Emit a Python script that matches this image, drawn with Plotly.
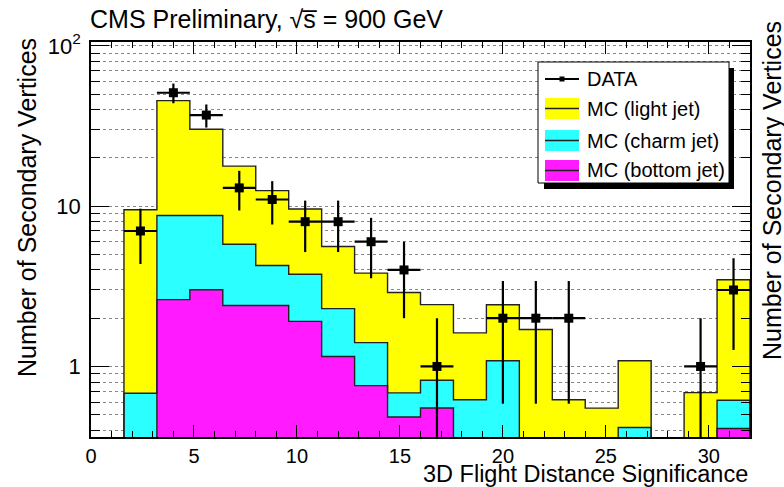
import numpy as np
import plotly.graph_objects as go

# ---------------- data ----------------
bin_edges = np.round(np.arange(0, 32.01, 1.6), 2)          # 20 bins of width 1.6
light_jet = [0, 8.82, 36.8, 21.4, 12.0, 8.24, 5.84, 3.31, 2.41, 2.21,
             1.61, 1.00, 1.34, 1.70, 0.62, 0.55, 0.67, 0, 0.687, 2.86]
charm_jet = [0, 0.68, 6.14, 5.74, 3.38, 1.86, 1.85, 1.14, 0.65, 0.20,
             0.27, 0.62, 1.085, 0, 0, 0, 0.416, 0, 0, 0.205]
bottom_jet = [0, 0, 2.61, 3.01, 2.40, 2.40, 1.91, 1.154, 0.759, 0.484,
              0.551, 0, 0, 0, 0, 0, 0, 0, 0, 0.41]
data_x = [2.4, 4.0, 5.6, 7.2, 8.8, 10.4, 12.0, 13.6, 15.2, 16.8, 20.0, 21.6, 23.2, 29.6, 31.2]
data_y = [7, 51, 37, 13, 11, 8, 8, 6, 4, 1, 2, 2, 2, 1, 3]
y_tick_vals = [1, 10, 100]
y_tick_text = ["1", "10", "10<sup>2</sup>"]
x_tick_vals = [0, 5, 10, 15, 20, 25, 30]

# ---------------- geometry helpers ----------------
W, H = 784, 487
ML, MR, MT, MB = 91, 34, 42, 50
PW, PH = W - ML - MR, H - MT - MB
FONT = "Liberation Sans, Arial, Helvetica, sans-serif"


def px(x):
    return (x - ML) / PW


def py(y):
    return (H - MB - y) / PH


bottom = np.array(bottom_jet, dtype=float)
charm_top = bottom + np.array(charm_jet, dtype=float)
total = charm_top + np.array(light_jet, dtype=float)
centers = bin_edges[:-1] + 0.8
widths = np.diff(bin_edges)

YELLOW, CYAN, MAGENTA = "#ffff00", "#2bffff", "#ff1aff"
OUTLINE = "#222222"

fig = go.Figure()

for vals, col in [(total, YELLOW), (charm_top, CYAN), (bottom, MAGENTA)]:
    yv = np.where(vals > 0, vals, np.nan)
    fig.add_trace(go.Bar(x=centers, y=yv, width=widths, marker=dict(color=col, line=dict(width=0)),
                         showlegend=False, hoverinfo="skip"))

# step outlines
for vals in [total, charm_top, bottom]:
    v = np.where(vals > 0, vals, 1e-3)
    xs = np.concatenate([[bin_edges[0]], bin_edges])
    ys = np.concatenate([[1e-3], v, [1e-3]])
    fig.add_trace(go.Scatter(x=xs, y=ys, mode="lines", line=dict(color=OUTLINE, width=1.4, shape="hv"),
                             showlegend=False, hoverinfo="skip"))

# data points
dy = np.sqrt(np.array(data_y, dtype=float))
dy_minus = np.minimum(dy, np.array(data_y) - 1e-3)
fig.add_trace(go.Scatter(
    x=data_x, y=data_y, mode="markers",
    marker=dict(symbol="square", size=9, color="black"),
    error_y=dict(type="data", array=dy, arrayminus=dy_minus, thickness=2.2, width=0, color="black"),
    error_x=dict(type="constant", value=0.8, thickness=2.2, width=0, color="black"),
    showlegend=False, hoverinfo="skip"))

minor_y = [m * 10 ** d for d in (-1, 0, 1) for m in range(2, 10) if 0.36 < m * 10 ** d < 105]

fig.update_layout(
    width=W, height=H,
    margin=dict(l=ML, r=MR, t=MT, b=MB),
    paper_bgcolor="white", plot_bgcolor="white",
    barmode="overlay", bargap=0,
    font=dict(family=FONT, color="black", size=20),
    xaxis=dict(range=[0, 32], tickvals=x_tick_vals, ticks="inside", ticklen=12, tickwidth=1,
               tickcolor="black", showline=True, linecolor="black", linewidth=1.5, mirror="ticks",
               showgrid=False, zeroline=False, tickfont=dict(size=20), ticklabelstandoff=0,
               minor=dict(dtick=1, ticks="inside", ticklen=6, tickcolor="black", showgrid=False)),
    yaxis=dict(type="log", range=[-0.44, 2.024], tickmode="array", tickvals=y_tick_vals,
               ticktext=y_tick_text, ticks="inside", ticklen=18, tickwidth=1, tickcolor="black",
               showline=True, linecolor="black", linewidth=1.5, mirror="ticks",
               showgrid=True, gridcolor="#888888", griddash="dot", gridwidth=1, zeroline=False,
               tickfont=dict(size=22), ticklabelstandoff=4,
               minor=dict(tickmode="array", tickvals=minor_y, ticks="inside", ticklen=9,
                          tickcolor="black", showgrid=True, gridcolor="#888888", griddash="dot",
                          gridwidth=1)),
)

# title & axis titles
annots = [
    dict(text="CMS Preliminary, √s\u0305 = 900 GeV", x=px(88), y=py(19), xanchor="left", yanchor="middle",
         font=dict(size=25)),
    dict(text="3D Flight Distance Significance", x=px(750), y=py(473.5), xanchor="right", yanchor="middle",
         font=dict(size=23.5)),
    dict(text="Number of Secondary Vertices", x=px(27), y=py(208), textangle=-90, xanchor="center",
         yanchor="middle", font=dict(size=25)),
    dict(text="Number of Secondary Vertices", x=px(772), y=py(191), textangle=-90, xanchor="center",
         yanchor="middle", font=dict(size=25)),
]

# manual legend
shapes = [
    dict(type="rect", xref="paper", yref="paper", x0=px(544), x1=px(734), y0=py(68), y1=py(189),
         fillcolor="black", line=dict(width=0), layer="above"),
    dict(type="rect", xref="paper", yref="paper", x0=px(538), x1=px(729), y0=py(62), y1=py(183),
         fillcolor="white", line=dict(color="black", width=1), layer="above"),
    dict(type="line", xref="paper", yref="paper", x0=px(545), x1=px(579), y0=py(79), y1=py(79),
         line=dict(color="black", width=2), layer="above"),
    dict(type="rect", xref="paper", yref="paper", x0=px(559.5), x1=px(564.5), y0=py(76.5), y1=py(81.5),
         fillcolor="black", line=dict(width=0), layer="above"),
]
rows = [("MC (light jet)", YELLOW, 98, 119), ("MC (charm jet)", CYAN, 130, 151),
        ("MC (bottom jet)", MAGENTA, 160, 181)]
annots.append(dict(text="DATA", x=px(585), y=py(79), xanchor="left", yanchor="middle", font=dict(size=20)))
for label, col, y0, y1 in rows:
    shapes.append(dict(type="rect", xref="paper", yref="paper", x0=px(545), x1=px(579), y0=py(y0), y1=py(y1),
                       fillcolor=col, line=dict(width=0), layer="above"))
    shapes.append(dict(type="line", xref="paper", yref="paper", x0=px(545), x1=px(579),
                       y0=py((y0 + y1) / 2), y1=py((y0 + y1) / 2),
                       line=dict(color=OUTLINE, width=1.3), layer="above"))
    annots.append(dict(text=label, x=px(585), y=py((y0 + y1) / 2), xanchor="left", yanchor="middle",
                       font=dict(size=20)))

for a in annots:
    a.update(xref="paper", yref="paper", showarrow=False)
fig.update_layout(annotations=annots, shapes=shapes)

fig.write_html("out.html")
